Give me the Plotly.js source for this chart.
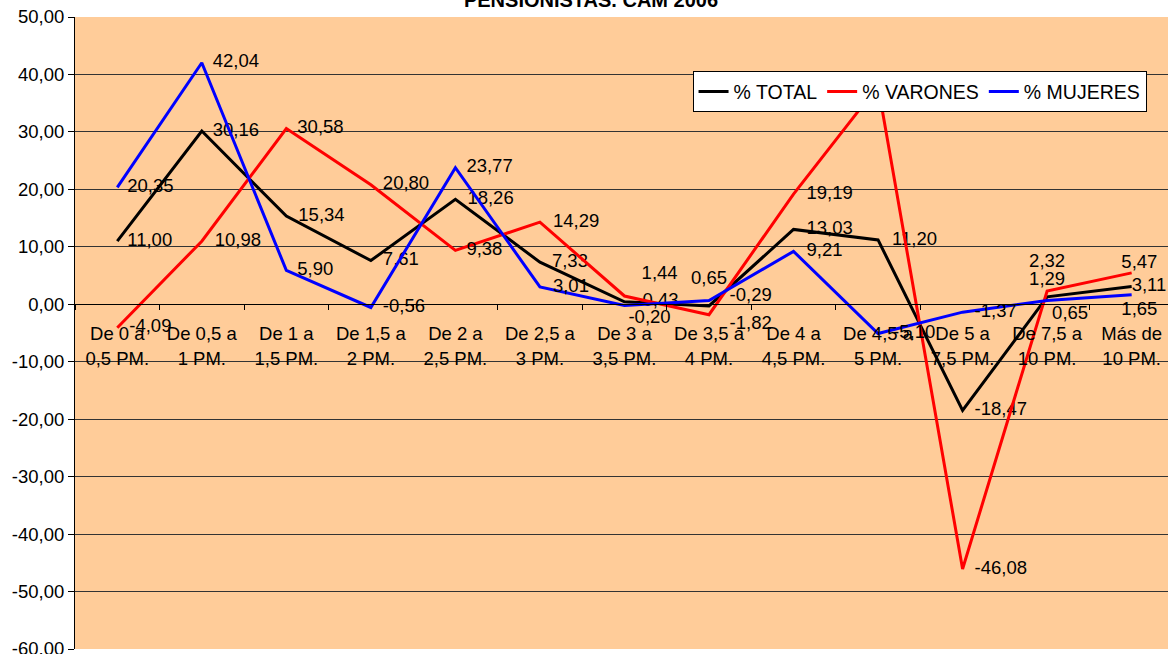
<!DOCTYPE html>
<html>
<head>
<meta charset="utf-8">
<script src="https://cdn.plot.ly/plotly-3.0.1.min.js"></script>
<style>
html,body{margin:0;padding:0;background:#fff;}
#chart{width:1168px;height:654px;}
</style>
</head>
<body>
<div id="chart"></div>
<script>
// ---- data ----
const categories = [
  "De 0 a<br>0,5 PM.", "De 0,5 a<br>1 PM.", "De 1 a<br>1,5 PM.", "De 1,5 a<br>2 PM.",
  "De 2 a<br>2,5 PM.", "De 2,5 a<br>3 PM.", "De 3 a<br>3,5 PM.", "De 3,5 a<br>4 PM.",
  "De 4 a<br>4,5 PM.", "De 4,5 a<br>5 PM.", "De 5 a<br>7,5 PM.", "De 7,5 a<br>10 PM.",
  "Más de<br>10 PM."
];
const total    = [11.00, 30.16, 15.34, 7.61, 18.26, 7.33, 0.43, -0.29, 13.03, 11.20, -18.47, 1.29, 3.11];
const varones  = [-4.09, 10.98, 30.58, 20.80, 9.38, 14.29, 1.44, -1.82, 19.19, 38.00, -46.08, 2.32, 5.47];
const mujeres  = [20.35, 42.04, 5.90, -0.56, 23.77, 3.01, -0.20, 0.65, 9.21, -5.10, -1.37, 0.65, 1.65];
const seriesNames = ["% TOTAL", "% VARONES", "% MUJERES"];
const yTicks = [50, 40, 30, 20, 10, 0, -10, -20, -30, -40, -50, -60];

// ---- label placement (style only): [textposition, offset px, leading pad spaces] ----
const MR = 'middle right';
const labTotal = [[MR,10,0],[MR,11,0],[MR,12,0],[MR,12,0],[MR,12,0],[MR,12,0],[MR,18,0],
                  ['top right',0,4],[MR,13,0],[MR,14,0],[MR,12,0],['top center',7,0],[MR,0,0]];
const labVar   = [[MR,12,0],[MR,13,0],[MR,11,0],[MR,12,0],[MR,11,0],[MR,13,0],['top right',12,1],
                  ['bottom right',0,4],[MR,13,0],[MR,11,0],[MR,12,0],['top center',19,0],['top center',0,3]];
const labMuj   = [[MR,10,0],[MR,11,0],[MR,11,0],[MR,12,0],[MR,11,0],[MR,13,0],['bottom right',4,0],
                  ['top center',12,0],[MR,13,0],[MR,15,0],[MR,12,0],['bottom right',5,0],['bottom center',6,3]];

// ---- styling ----
const FONT = "Liberation Sans, Arial, sans-serif";
const FS = 18.5;
const fmt = v => v.toFixed(2).replace('.', ',');

function mk(name, y, color, lab) {
  return {
    type: 'scatter', mode: 'lines+markers+text', name: name,
    x: categories, y: y,
    text: y.map((v, i) => '\u00a0'.repeat(lab[i][2]) + fmt(v)),
    textposition: lab.map(l => l[0]),
    textfont: {family: FONT, size: FS, color: '#000'},
    line: {color: color, width: 3},
    marker: {size: lab.map(l => l[1] > 1 ? (l[1] - 1) * 1.6 : 0), color: 'rgba(0,0,0,0)', line: {width: 0}},
    cliponaxis: false, hoverinfo: 'skip'
  };
}

const data = [
  mk(seriesNames[0], total, '#000000', labTotal),
  mk(seriesNames[1], varones, '#FF0000', labVar),
  mk(seriesNames[2], mujeres, '#0000FF', labMuj)
];

const layout = {
  width: 1168, height: 654,
  margin: {l: 75, r: 0, t: 17, b: 5},
  paper_bgcolor: '#FFFFFF',
  plot_bgcolor: '#FFCC99',
  font: {family: FONT, size: FS, color: '#000'},
  title: {
    text: '<b>PENSIONISTAS. CAM 2006</b>',
    font: {family: FONT, size: 20, color: '#000'},
    xref: 'container', x: 0.506, xanchor: 'center',
    yref: 'container', y: 1.0, yanchor: 'middle'
  },
  showlegend: true,
  legend: {
    orientation: 'h',
    x: 0.565, xanchor: 'left', y: 0.914, yanchor: 'top',
    bgcolor: '#FFFFFF', bordercolor: '#000000', borderwidth: 1,
    font: {family: FONT, size: 19.5, color: '#000'},
    itemwidth: 30, tracegroupgap: 0
  },
  xaxis: {
    type: 'category',
    range: [-0.5, 12.43],
    anchor: 'free', position: 60 / 110,
    showline: true, linecolor: '#000', linewidth: 1,
    ticks: 'outside', ticklen: 5, tickcolor: '#000', tickson: 'boundaries',
    showgrid: false, zeroline: false,
    tickfont: {family: FONT, size: FS, color: '#000'},
    ticklabelstandoff: 13,
    fixedrange: true
  },
  yaxis: {
    range: [-60, 50],
    tickvals: yTicks, ticktext: yTicks.map(fmt),
    showline: true, linecolor: '#000', linewidth: 1,
    ticks: 'outside', ticklen: 6, tickcolor: '#000',
    showgrid: true, gridcolor: '#333333', gridwidth: 1,
    zeroline: false,
    ticklabeloverflow: 'allow',
    tickfont: {family: FONT, size: FS, color: '#000'},
    fixedrange: true
  }
};

Plotly.newPlot('chart', data, layout, {displayModeBar: false, staticPlot: true});
</script>
</body>
</html>
